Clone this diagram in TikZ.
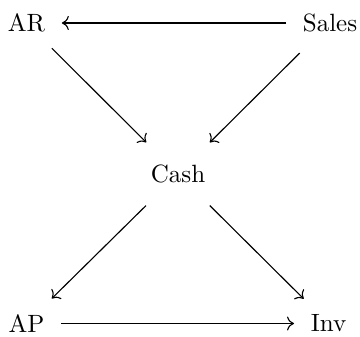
\documentclass[tikz,border=0pt]{standalone}
\usetikzlibrary{arrows.meta}
\begin{document}
\begin{tikzpicture}[x=0.4pt,y=-0.4pt,
  lbl/.style={inner xsep=6.5pt, inner ysep=6.2pt},
  arr/.style={-{Computer Modern Rightarrow[length=2.8pt,width=5.6pt]}, line width=0.45pt}]
\useasboundingbox (0,0) rectangle (360,337);
\node[lbl] (AR) at (26.5,23) {AR};
\node[lbl, inner ysep=8.2pt] (Sales) at (330,23) {Sales};
\node[lbl, inner ysep=8.8pt] (Cash) at (178,174) {Cash};
\node[lbl] (AP) at (26.5,323.5) {AP};
\node[lbl] (Inv) at (328.5,323.5) {Inv};
\draw[arr] (Sales) -- (AR);
\draw[arr] (AR) -- (Cash);
\draw[arr] (Sales) -- (Cash);
\draw[arr] (Cash) -- (AP);
\draw[arr] (Cash) -- (Inv);
\draw[arr] (AP) -- (Inv);
\end{tikzpicture}
\end{document}
